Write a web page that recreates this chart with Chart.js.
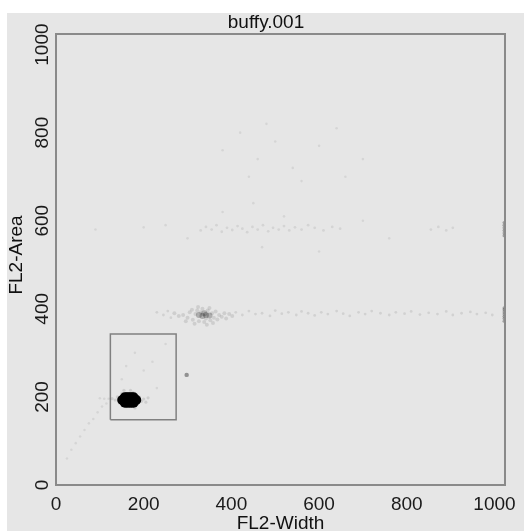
<!DOCTYPE html>
<html>
<head>
<meta charset="utf-8">
<title>buffy.001</title>
<script src="https://cdn.jsdelivr.net/npm/chart.js@4/dist/chart.umd.min.js"></script>
<style>
  html, body { margin: 0; padding: 0; background: #fff; overflow: hidden; }
  #wrap { width: 524px; height: 531px; }
</style>
</head>
<body>
<div id="wrap"><canvas id="plot" width="524" height="531"></canvas></div>
<script>
// FL2-Width vs FL2-Area dot plot, channel range 0..1023 on both axes
const plotTitle = 'buffy.001';
const xAxisTitle = 'FL2-Width';
const yAxisTitle = 'FL2-Area';
const xTickValues = [0, 200, 400, 600, 800, 1000];
const yTickValues = [0, 200, 400, 600, 800, 1000];
const channelMax = 1024;

// singlet population (dense core)
const coreX = [151, 155, 159, 163, 167, 171, 175, 179, 183, 157, 162, 167, 172, 177, 157, 162, 167, 172, 177];
const coreY = [193, 193, 193, 193, 193, 193, 193, 193, 193, 187, 187, 187, 187, 187, 199, 199, 199, 199, 199];

// events scattered around the singlet core
const haloX = [140, 145, 195, 190, 185, 150, 176, 160, 200, 135, 170, 180, 155, 205, 128, 210];
const haloY = [200, 186, 190, 200, 183, 208, 210, 178, 195, 193, 215, 175, 215, 188, 196, 198];

// doublet population
const doubletCoreX = [326, 334, 342, 350, 338];
const doubletCoreY = [386, 384, 386, 385, 390];
const doubletX = [300, 305, 312, 318, 322, 326, 330, 334, 338, 342, 346, 352, 356, 360, 364, 368, 372, 378, 384, 290, 296, 310, 350, 358, 280, 388, 395, 270, 402, 316, 324, 344];
const doubletY = [380, 392, 375, 388, 396, 372, 392, 400, 370, 378, 396, 374, 390, 380, 394, 376, 386, 382, 390, 386, 372, 398, 402, 368, 384, 378, 388, 390, 384, 366, 404, 364];

// faint band of events at FL2-Area ~390
const bandLowX = [230, 245, 255, 262, 410, 425, 440, 455, 470, 488, 500, 515, 530, 548, 560, 575, 590, 605, 620, 640, 655, 670, 690, 705, 720, 740, 760, 775, 795, 810, 830, 850, 870, 890, 905, 925, 945, 960, 980, 995];
const bandLowY = [392, 386, 395, 380, 392, 386, 395, 388, 390, 384, 396, 389, 392, 386, 394, 390, 385, 392, 388, 395, 389, 384, 392, 388, 395, 390, 386, 392, 389, 394, 387, 391, 388, 394, 386, 390, 393, 388, 391, 386];

// faint band of events at FL2-Area ~580
const bandHighX = [330, 342, 355, 366, 378, 390, 402, 414, 425, 436, 448, 460, 472, 484, 495, 508, 520, 532, 545, 560, 575, 590, 610, 630, 648, 855, 872, 890, 905];
const bandHighY = [578, 586, 580, 590, 575, 584, 579, 588, 582, 574, 586, 580, 590, 576, 584, 580, 588, 578, 585, 580, 590, 584, 578, 586, 582, 580, 586, 578, 584];

// off-scale events piled at the top channel
const edgeX = [1022, 1022, 1022, 1022, 1022, 1022, 1022, 1022, 1022, 1022, 1022, 1022, 1022];
const edgeY = [372, 378, 383, 388, 393, 398, 402, 566, 572, 578, 584, 590, 596];

// debris and sparse events
const sparseX = [25, 35, 45, 55, 65, 75, 85, 95, 105, 115, 120, 110, 100, 150, 200, 230, 180, 250, 220, 160, 380, 450, 520, 600, 470, 700, 760, 300, 250, 200, 90, 380, 420, 460, 500, 540, 600, 640, 480, 440, 560, 700, 660];
const sparseY = [60, 80, 95, 110, 125, 140, 150, 165, 178, 185, 196, 196, 197, 240, 260, 220, 300, 320, 280, 270, 620, 640, 610, 530, 540, 600, 560, 560, 590, 585, 580, 760, 800, 740, 780, 720, 770, 810, 820, 700, 690, 740, 700];

// isolated event
const strayX = [298];
const strayY = [250];

// analysis gate
const gateX = [124, 274, 274, 124, 124];
const gateY = [148, 148, 343, 343, 148];

const pts = (xs, ys) => xs.map((x, i) => ({ x: x, y: ys[i] }));

const backdrop = {
  id: 'backdrop',
  beforeDraw(chart) {
    const c = chart.ctx;
    c.save();
    c.fillStyle = '#ffffff';
    c.fillRect(0, 0, chart.width, chart.height);
    c.fillStyle = '#e6e6e6';
    c.fillRect(7, 13, chart.width - 7, chart.height - 13);
    c.restore();
  }
};

const frameAndTitles = {
  id: 'frameAndTitles',
  afterDraw(chart) {
    const c = chart.ctx;
    const a = chart.chartArea;
    c.save();
    c.strokeStyle = '#8a8a8a';
    c.lineWidth = 2;
    c.strokeRect(a.left, a.top, a.right - a.left, a.bottom - a.top);
    c.fillStyle = '#111';
    c.font = '19px "Liberation Sans", Arial, sans-serif';
    c.textAlign = 'center';
    c.textBaseline = 'alphabetic';
    c.fillText(plotTitle, 266, 28);
    c.fillText(xAxisTitle, (a.left + a.right) / 2, 529);
    c.translate(22, 255);
    c.rotate(-Math.PI / 2);
    c.fillText(yAxisTitle, 0, 0);
    c.restore();
  }
};

const tickFont = { family: '"Liberation Sans", Arial, sans-serif', size: 19 };
const plainTick = v => String(v);

new Chart(document.getElementById('plot'), {
  type: 'scatter',
  data: {
    datasets: [
      { data: pts(sparseX, sparseY), pointRadius: 1.3, backgroundColor: 'rgba(0,0,0,0.07)', borderWidth: 0 },
      { data: pts(bandHighX, bandHighY), pointRadius: 1.4, backgroundColor: 'rgba(0,0,0,0.08)', borderWidth: 0 },
      { data: pts(bandLowX, bandLowY), pointRadius: 1.4, backgroundColor: 'rgba(0,0,0,0.09)', borderWidth: 0 },
      { data: pts(edgeX, edgeY), pointRadius: 1.6, backgroundColor: 'rgba(0,0,0,0.3)', borderWidth: 0 },
      { data: pts(doubletX, doubletY), pointRadius: 2, backgroundColor: 'rgba(0,0,0,0.1)', borderWidth: 0 },
      { data: pts(doubletCoreX, doubletCoreY), pointRadius: 3, backgroundColor: 'rgba(30,30,30,0.28)', borderWidth: 0 },
      { data: pts(haloX, haloY), pointRadius: 1.6, backgroundColor: 'rgba(0,0,0,0.1)', borderWidth: 0 },
      { data: pts(coreX, coreY), pointRadius: 5, backgroundColor: '#000', borderWidth: 0 },
      { data: pts(strayX, strayY), pointRadius: 2.2, backgroundColor: 'rgba(60,60,60,0.5)', borderWidth: 0 },
      { data: pts(gateX, gateY), showLine: true, pointRadius: 0, borderColor: '#808080', borderWidth: 1.5, fill: false }
    ]
  },
  options: {
    responsive: false,
    animation: false,
    events: [],
    layout: { padding: { top: 34, right: 17, left: 0, bottom: 0 } },
    plugins: { legend: { display: false }, tooltip: { enabled: false }, title: { display: false } },
    scales: {
      x: {
        type: 'linear', min: 0, max: channelMax,
        afterBuildTicks: s => { s.ticks = xTickValues.map(v => ({ value: v })); },
        afterFit: s => { s.height = 46; },
        grid: { display: false, drawTicks: false },
        border: { display: false },
        ticks: { font: tickFont, color: '#1a1a1a', padding: 8, maxRotation: 0, autoSkip: false, callback: plainTick }
      },
      y: {
        type: 'linear', min: 0, max: channelMax,
        afterBuildTicks: s => { s.ticks = yTickValues.map(v => ({ value: v })); },
        afterFit: s => { s.width = 56; },
        grid: { display: false, drawTicks: false },
        border: { display: false },
        ticks: { font: tickFont, color: '#1a1a1a', padding: -8, minRotation: 90, maxRotation: 90, crossAlign: 'center', autoSkip: false, callback: plainTick }
      }
    }
  },
  plugins: [backdrop, frameAndTitles]
});
</script>
</body>
</html>
